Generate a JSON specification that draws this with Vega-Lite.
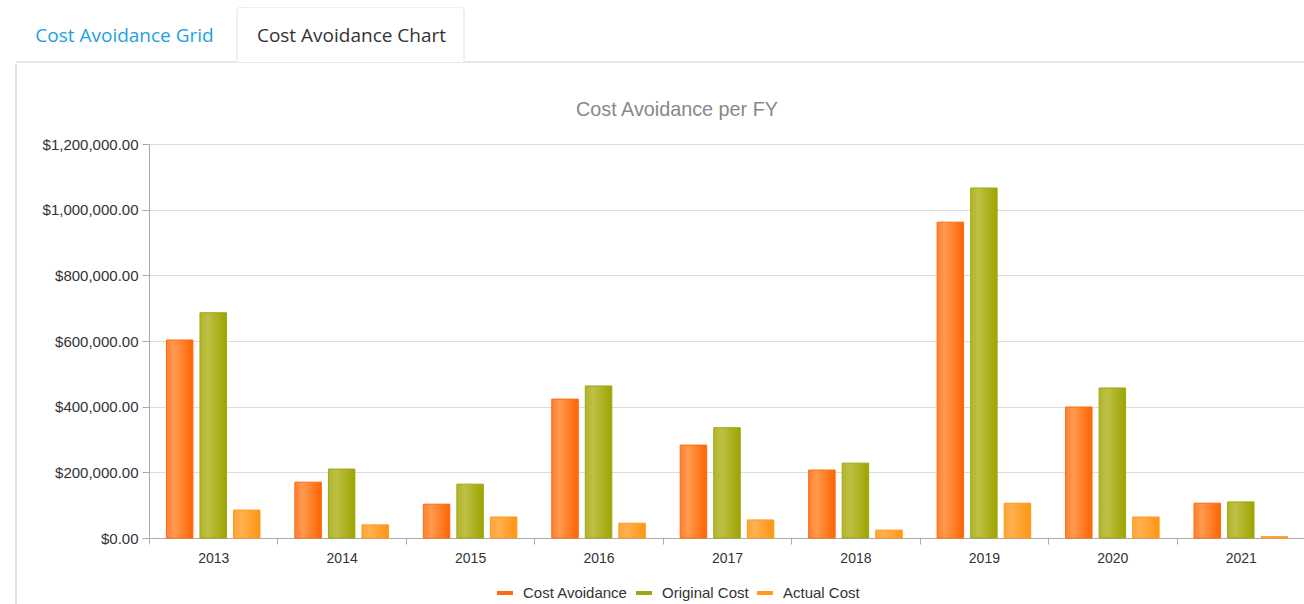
{
  "$schema": "https://vega.github.io/schema/vega-lite/v6.json",
  "background": "white",
  "padding": {"left": 15, "top": 7, "right": 0, "bottom": 0},
  "config": {"view": {"stroke": null}, "font": "Liberation Sans"},
  "spacing": 0,
  "resolve": {"scale": {"x": "independent", "y": "independent"}},
  "vconcat": [
    {
      "width": 1156,
      "height": 55,
      "data": {"values": [
        {"tab": "Cost Avoidance Grid", "status": "inactive"},
        {"tab": "Cost Avoidance Chart", "status": "active"}
      ]},
      "resolve": {"scale": {"x": "independent"}},
      "layer": [
        {
          "mark": {"type": "rule", "color": "#e0e0e0", "strokeWidth": 1},
          "encoding": {
            "x": {"datum": 0, "type": "quantitative", "scale": {"domain": [0, 1], "range": [-133, 1156], "nice": false, "zero": false}, "axis": null},
            "x2": {"datum": 1},
            "y": {"datum": 0, "type": "quantitative", "scale": {"domain": [0, 1], "nice": false, "zero": false}, "axis": null}
          }
        },
        {
          "transform": [{"filter": "datum.status === 'active'"}],
          "mark": {"type": "rect", "fill": "white", "stroke": "#e0e0e0", "strokeWidth": 1, "cornerRadiusTopLeft": 4, "cornerRadiusTopRight": 4, "clip": true},
          "encoding": {
            "x": {"field": "tab", "type": "nominal", "scale": {"type": "band", "domain": ["Cost Avoidance Grid", "Cost Avoidance Chart"], "range": [-139, 315], "paddingInner": 0, "paddingOuter": 0}, "axis": null},
            "y": {"datum": 1, "type": "quantitative"},
            "y2": {"datum": -0.2}
          }
        },
        {
          "mark": {"type": "text", "font": "Open Sans", "fontSize": 19, "baseline": "middle", "dy": 1},
          "encoding": {
            "x": {"field": "tab", "type": "nominal", "bandPosition": 0.5, "scale": {"type": "band", "domain": ["Cost Avoidance Grid", "Cost Avoidance Chart"], "range": [-138, 316], "paddingInner": 0, "paddingOuter": 0}, "axis": null},
            "text": {"field": "tab"},
            "color": {"condition": {"test": "datum.status === 'active'", "value": "#333333"}, "value": "#1ba1e2"}
          }
        }
      ]
    },
    {
      "width": 1156,
      "height": 394,
      "title": {"text": "Cost Avoidance per FY", "color": "#888888", "fontSize": 19.8, "fontWeight": "normal", "font": "Liberation Sans", "anchor": "middle", "dx": -50, "offset": -56},
      "data": {"values": [
        {"year": "2013", "series": "Cost Avoidance", "value": 603000},
        {"year": "2013", "series": "Original Cost", "value": 686000},
        {"year": "2013", "series": "Actual Cost", "value": 85000},
        {"year": "2014", "series": "Cost Avoidance", "value": 170000},
        {"year": "2014", "series": "Original Cost", "value": 210000},
        {"year": "2014", "series": "Actual Cost", "value": 40000},
        {"year": "2015", "series": "Cost Avoidance", "value": 103000},
        {"year": "2015", "series": "Original Cost", "value": 164000},
        {"year": "2015", "series": "Actual Cost", "value": 64000},
        {"year": "2016", "series": "Cost Avoidance", "value": 423000},
        {"year": "2016", "series": "Original Cost", "value": 463000},
        {"year": "2016", "series": "Actual Cost", "value": 45000},
        {"year": "2017", "series": "Cost Avoidance", "value": 283000},
        {"year": "2017", "series": "Original Cost", "value": 336000},
        {"year": "2017", "series": "Actual Cost", "value": 55000},
        {"year": "2018", "series": "Cost Avoidance", "value": 207000},
        {"year": "2018", "series": "Original Cost", "value": 228000},
        {"year": "2018", "series": "Actual Cost", "value": 24000},
        {"year": "2019", "series": "Cost Avoidance", "value": 962000},
        {"year": "2019", "series": "Original Cost", "value": 1066000},
        {"year": "2019", "series": "Actual Cost", "value": 106000},
        {"year": "2020", "series": "Cost Avoidance", "value": 399000},
        {"year": "2020", "series": "Original Cost", "value": 457000},
        {"year": "2020", "series": "Actual Cost", "value": 64000},
        {"year": "2021", "series": "Cost Avoidance", "value": 106000},
        {"year": "2021", "series": "Original Cost", "value": 110000},
        {"year": "2021", "series": "Actual Cost", "value": 4000}
      ]},
      "resolve": {"scale": {"x": "independent"}},
      "layer": [
        {
          "encoding": {
            "x": {"field": "year", "type": "nominal", "scale": {"paddingInner": 0, "paddingOuter": 0},
              "axis": {"title": null, "labelAngle": 0, "tickBand": "extent", "labelFontSize": 14, "labelColor": "#333333", "labelPadding": 7, "tickColor": "#aaaaaa", "domainColor": "#aaaaaa", "tickSize": 6, "grid": false}},
            "xOffset": {"field": "series", "type": "nominal", "scale": {"domain": ["Cost Avoidance", "Original Cost", "Actual Cost"], "paddingInner": 0.21, "paddingOuter": 0.52}},
            "y": {"field": "value", "type": "quantitative", "scale": {"domain": [0, 1200000], "nice": false},
              "axis": {"title": null, "values": [0, 200000, 400000, 600000, 800000, 1000000, 1200000], "format": "$,.2f", "labelFontSize": 15, "labelColor": "#333333", "tickColor": "#aaaaaa", "domainColor": "#aaaaaa", "gridColor": "#dddddd", "tickSize": 7, "labelPadding": 4, "minExtent": 133}},
            "stroke": {"field": "series", "type": "nominal", "scale": {"domain": ["Cost Avoidance", "Original Cost", "Actual Cost"], "range": ["#ff6a10", "#9ea712", "#ff9a1c"]},
              "legend": {"title": null, "orient": "none", "legendX": 346, "legendY": 576, "direction": "horizontal", "symbolType": "stroke", "symbolStrokeWidth": 4, "symbolSize": 256, "labelFontSize": 15, "labelColor": "#333333", "labelOffset": 8, "columnPadding": 0}}
          },
          "layer": [
            {
              "transform": [{"filter": "datum.series === 'Cost Avoidance'"}],
              "mark": {"type": "bar", "strokeWidth": 1, "fill": {"gradient": "linear", "x1": 0, "y1": 0, "x2": 1, "y2": 0, "stops": [{"offset": 0, "color": "#ff8030"}, {"offset": 0.3, "color": "#ff9a50"}, {"offset": 1, "color": "#ff6400"}]}}
            },
            {
              "transform": [{"filter": "datum.series === 'Original Cost'"}],
              "mark": {"type": "bar", "strokeWidth": 1, "fill": {"gradient": "linear", "x1": 0, "y1": 0, "x2": 1, "y2": 0, "stops": [{"offset": 0, "color": "#b0b52a"}, {"offset": 0.3, "color": "#bdc045"}, {"offset": 1, "color": "#9ea400"}]}}
            },
            {
              "transform": [{"filter": "datum.series === 'Actual Cost'"}],
              "mark": {"type": "bar", "strokeWidth": 1, "fill": {"gradient": "linear", "x1": 0, "y1": 0, "x2": 1, "y2": 0, "stops": [{"offset": 0, "color": "#ffa436"}, {"offset": 0.3, "color": "#ffb050"}, {"offset": 1, "color": "#ff9412"}]}}
            }
          ]
        },
        {
          "mark": {"type": "rule", "color": "#e0e0e0", "strokeWidth": 1},
          "encoding": {
            "x": {"datum": 0, "type": "quantitative", "scale": {"domain": [0, 1], "range": [-133, 1156], "nice": false, "zero": false}, "axis": null},
            "y": {"datum": -200000, "type": "quantitative", "scale": {"domain": [0, 1200000], "nice": false},
              "axis": {"title": null, "values": [0, 200000, 400000, 600000, 800000, 1000000, 1200000], "format": "$,.2f", "labelFontSize": 15, "labelColor": "#333333", "tickColor": "#aaaaaa", "domainColor": "#aaaaaa", "gridColor": "#dddddd", "tickSize": 7, "labelPadding": 4, "minExtent": 133}},
            "y2": {"datum": 1443655}
          }
        }
      ]
    }
  ]
}
